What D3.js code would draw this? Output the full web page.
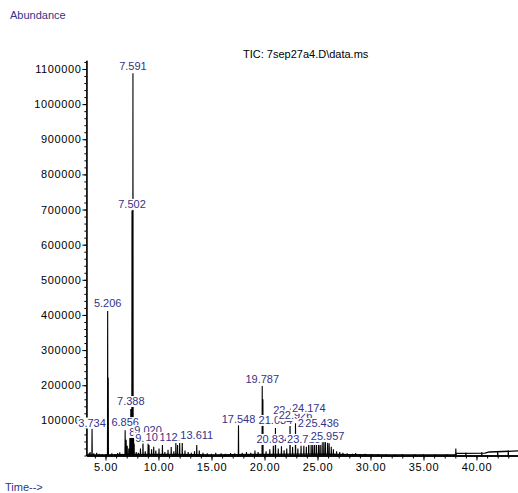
<!DOCTYPE html>
<html>
<head>
<meta charset="utf-8">
<script src="https://cdn.jsdelivr.net/npm/d3@7"></script>
<style>
  html, body { margin: 0; padding: 0; background: #fff; }
  svg { display: block; font-family: "Liberation Sans", Arial, sans-serif; }
</style>
</head>
<body>
<svg id="chart" width="518" height="493"></svg>
<script>
// Total ion chromatogram of run 7sep27a4.D
const runTitle = "TIC: 7sep27a4.D\\data.ms";
const yTitle = "Abundance";
const xTitle = "Time-->";

// Labelled peaks: retention time (min), apex abundance, abundance where the label sits
const labelTimes   = [3.734, 5.206, 6.856, 7.388, 7.502, 7.591, 8.538, 9.020, 9.108, 10.372, 11.640, 12.243, 13.611,
                      17.548, 19.787, 20.834, 21.034, 22.412, 22.926, 23.713, 24.174, 24.718, 25.436, 25.957];
const labelHeights = [76000, 411000, 72000, 132000, 697000, 1088000, 45000, 35000, 30000, 30000, 36000, 36000, 30000,
                      87000, 198000, 28000, 78000, 100000, 92000, 28000, 55000, 40000, 45000, 36000];
const labelLevels  = [76800, 417000, 78000, 138000, 699000, 1091000, 50000, 56000, 34000, 35600, 35600, 35600, 41000,
                      86000, 200600, 30000, 84000, 112000, 98000, 30000, 119000, 75000, 75000, 38000];

// Unlabelled peaks: retention time (min) and apex abundance
const minorTimes = [3.45, 3.55, 3.9, 4.17, 4.4, 4.7, 5.05, 5.26, 5.6, 5.9, 6.15, 6.35, 6.6, 6.95, 7.05, 7.2,
                    7.30, 7.34, 7.45, 7.54, 7.64, 7.70, 7.9, 8.1, 8.3, 8.75, 9.35, 9.55, 9.75, 10.05, 10.6, 10.9,
                    11.2, 11.45, 11.8, 12.0, 12.5, 12.8, 13.1, 13.4, 13.85, 14.2, 14.6, 15.0, 15.4, 15.9, 16.3,
                    16.8, 17.2, 17.9, 18.3, 18.7, 19.1, 19.4, 19.85, 20.15, 20.5, 21.3, 21.6, 21.85, 22.1, 22.65,
                    23.15, 23.45, 23.95, 24.4, 24.55, 24.9, 25.1, 25.25, 25.6, 25.75, 26.1, 26.3, 26.5, 26.8,
                    27.1, 27.4, 27.8, 28.3, 28.6, 29.0, 29.5, 30.1, 30.7, 31.5, 32.3, 33.0, 34.2, 35.0, 36.1,
                    37.2, 38.05, 39.0, 40.5, 42.0, 43.0];
const minorHeights = [6000, 10000, 6000, 8000, 5000, 3000, 4000, 221000, 6000, 4000, 7000, 9000, 5000, 45000, 28000, 20000,
                      50000, 52000, 55000, 55000, 52000, 48000, 10000, 8000, 20000, 12000, 18000, 25000, 14000, 20000, 10000, 16000,
                      24000, 12000, 30000, 36000, 14000, 10000, 8000, 12000, 14000, 8000, 6000, 5000, 8000, 6000, 5000,
                      7000, 6000, 8000, 10000, 8000, 14000, 10000, 160000, 12000, 18000, 20000, 26000, 15000, 20000, 24000,
                      20000, 28000, 25000, 34000, 30000, 35000, 38000, 42000, 40000, 44000, 35000, 25000, 18000, 12000,
                      10000, 8000, 6000, 5000, 7000, 4000, 5000, 4000, 4000, 3000, 3000, 4000, 3000, 3000, 3000,
                      3000, 20000, 8000, 9000, 13000, 14000];

// Baseline drift
const baseTimes  = [3.2, 5, 8, 12, 15, 20, 24, 26, 28, 32, 37.95, 38.15, 40.8, 41.2, 44];
const baseLevels = [1500, 2000, 3000, 3000, 2000, 3000, 4000, 3500, 2500, 2000, 2000, 6000, 7000, 10000, 13000];

// Axis ticks
const yTickValues = [100000, 200000, 300000, 400000, 500000, 600000, 700000, 800000, 900000, 1000000, 1100000];
const xTickValues = [5, 10, 15, 20, 25, 30, 35, 40];

const svg = d3.select("#chart");

const x = d3.scaleLinear().domain([3.2, 44]).range([86.4, 518.9]);
const y = d3.scaleLinear().domain([0, 1125000]).range([455.5, 60.2]);

const labelColor = "#333388";

// Titles
svg.append("text").attr("x", 10).attr("y", 19)
  .attr("font-size", 11).attr("fill", labelColor).text(yTitle);
svg.append("text").attr("x", 5).attr("y", 491)
  .attr("font-size", 11).attr("fill", labelColor).text(xTitle);
svg.append("text").attr("x", 243).attr("y", 58)
  .attr("font-size", 11).attr("fill", "#000").text(runTitle);

// Baseline trace
const baseData = baseTimes.map((t, i) => [t, baseLevels[i]]);
svg.append("path")
  .attr("d", d3.line().x(d => x(d[0])).y(d => y(d[1]))(baseData))
  .attr("fill", "none").attr("stroke", "#000").attr("stroke-width", 1.3);

// Peaks as narrow spikes
const peaks = labelTimes.map((t, i) => ({ t, h: labelHeights[i] }))
  .concat(minorTimes.map((t, i) => ({ t, h: minorHeights[i] })))
  .sort((a, b) => a.t - b.t);
const halfWidth = 0.02;
const peakPath = peaks.map(p =>
  `M${x(p.t - halfWidth)},${y(0)}L${x(p.t)},${y(p.h)}L${x(p.t + halfWidth)},${y(0)}`).join("");
svg.append("path").attr("d", peakPath)
  .attr("fill", "none").attr("stroke", "#000").attr("stroke-width", 1.1)
  .attr("stroke-linejoin", "miter");

// X axis
const gx = svg.append("g").attr("transform", `translate(0,${y(0)})`);
gx.call(d3.axisBottom(x).tickValues(d3.range(4, 44)).tickSize(3).tickSizeOuter(0).tickFormat(""));
gx.call(g => g.append("g").call(
  d3.axisBottom(x).tickValues(xTickValues).tickSize(5).tickSizeOuter(0).tickFormat(d3.format(".2f"))));
gx.selectAll("path.domain").attr("stroke", "#000").attr("stroke-width", 1.4);
gx.selectAll(".tick line").attr("stroke", "#000");
gx.selectAll(".tick text").attr("font-size", 11).attr("fill", "#000")
  .attr("font-family", "Liberation Sans, Arial, sans-serif")
  .attr("letter-spacing", 0.6).attr("y", 8);

// Y axis
const gy = svg.append("g").attr("transform", `translate(${x(3.2)},0)`);
gy.call(d3.axisLeft(y).tickValues(d3.range(0, 1125001, 20000)).tickSize(2).tickSizeOuter(0).tickFormat(""));
gy.call(g => g.append("g").call(
  d3.axisLeft(y).tickValues(yTickValues).tickSize(4).tickSizeOuter(0).tickFormat(d3.format("d"))));
gy.selectAll("path.domain").attr("stroke", "#000").attr("stroke-width", 1.2);
gy.selectAll(".tick line").attr("stroke", "#000");
gy.selectAll(".tick text").attr("font-size", 11).attr("fill", "#000")
  .attr("font-family", "Liberation Sans, Arial, sans-serif")
  .attr("letter-spacing", 0.6).attr("x", -5);

// Retention-time labels, each on a white plate drawn over what came before
labelTimes.forEach((t, i) => {
  const g = svg.append("g");
  const txt = g.append("text")
    .attr("x", x(t)).attr("y", y(labelLevels[i]) - 2)
    .attr("text-anchor", "middle").attr("font-size", 11)
    .attr("fill", labelColor).text(t.toFixed(3));
  const bb = txt.node().getBBox();
  g.insert("rect", "text")
    .attr("x", bb.x - 1).attr("y", bb.y + 1)
    .attr("width", bb.width + 2).attr("height", bb.height - 1)
    .attr("fill", "#fff");
});
</script>
</body>
</html>
